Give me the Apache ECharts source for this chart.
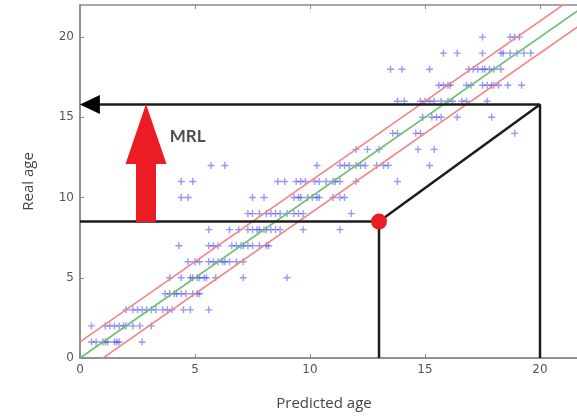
<!DOCTYPE html>
<html>
<head>
<meta charset="utf-8">
<script src="https://cdn.jsdelivr.net/npm/echarts@6/dist/echarts.min.js"></script>
<style>
  html, body { margin: 0; padding: 0; background: #fff; }
  #main { width: 577px; height: 416px; }
</style>
</head>
<body>
<div id="main"></div>
<script>
// real age (y) for each row of points
var realAges = [1, 2, 3, 4, 5, 6, 7, 8, 9, 10, 11, 12, 13, 14, 15, 16, 17, 18, 19, 20];
// predicted ages (x), one list per real age
var predictedAges = [
  [0.5, 0.7, 1.0, 1.1, 1.2, 1.5, 1.6, 1.7, 2.7],
  [0.5, 1.1, 1.3, 1.5, 1.7, 1.9, 2.0, 2.3, 2.6, 3.1],
  [2.0, 2.3, 2.5, 2.7, 2.9, 3.1, 3.3, 3.6, 3.8, 4.0, 4.5, 4.8, 5.6],
  [3.7, 3.9, 4.1, 4.2, 4.4, 4.6, 4.9, 5.1, 5.2],
  [3.9, 4.4, 4.8, 4.9, 5.1, 5.2, 5.4, 5.5, 5.9, 7.1, 9.0],
  [4.7, 5.0, 5.2, 5.6, 5.8, 6.0, 6.2, 6.3, 6.5, 6.8, 7.1],
  [4.3, 5.6, 5.8, 6.0, 6.6, 6.8, 7.0, 7.1, 7.3, 7.5, 7.8, 8.1, 8.2],
  [5.6, 6.5, 6.9, 7.3, 7.5, 7.7, 7.8, 8.0, 8.1, 8.3, 8.5, 8.7, 9.7, 11.3],
  [7.3, 7.5, 7.8, 8.1, 8.3, 8.5, 8.7, 9.0, 9.3, 9.5, 9.7, 11.8],
  [4.4, 4.7, 7.5, 8.0, 9.3, 9.5, 9.6, 9.9, 10.1, 10.3, 10.4, 11.0, 11.3, 11.5],
  [4.4, 4.9, 8.6, 8.9, 9.4, 9.6, 9.8, 10.2, 10.4, 10.7, 11.0, 11.1, 11.3, 12.0, 13.8],
  [5.7, 6.3, 10.3, 11.3, 11.5, 11.7, 12.0, 12.2, 12.4, 12.9, 13.2, 13.4, 15.2],
  [12.0, 12.5, 13.0, 14.7, 15.4],
  [13.6, 13.8, 14.6, 14.8, 18.9],
  [14.9, 15.3, 15.5, 15.7, 16.4, 17.9],
  [13.8, 14.1, 14.8, 15.0, 15.2, 15.4, 15.7, 16.0, 16.2, 16.6, 16.8, 17.7],
  [15.6, 15.8, 16.0, 16.1, 16.8, 17.0, 17.5, 17.7, 17.9, 18.0, 18.2, 18.6, 19.2],
  [13.5, 14.0, 15.2, 16.9, 17.1, 17.3, 17.5, 17.6, 17.8, 18.0, 18.3],
  [15.8, 16.4, 17.5, 18.3, 18.4, 18.7, 19.0, 19.3, 19.6],
  [17.5, 18.7, 18.9, 19.1]
];
// y = x + offset guide lines
var bandOffsets = [1, -1];
var axisMax = 22;
// annotation points
var mrlPoint = [13, 8.5];
var mrlCorner = [20, 15.8];

var points = [];
realAges.forEach(function (age, i) {
  predictedAges[i].forEach(function (p) { points.push([p, age]); });
});

function diag(offset) {
  return [[0, offset], [axisMax, axisMax + offset]];
}

var plusPath = 'path://M4 0h2v4h4v2h-4v4h-2v-4h-4v-2h4z';
var arrowPath = 'path://M20.5 0L41 60L30.5 60L30.5 118L10.5 118L10.5 60L0 60Z';
var black = '#1c1c1c';

var series = [{
  type: 'scatter',
  data: points,
  symbol: plusPath,
  symbolSize: 7,
  itemStyle: { color: 'rgb(50,50,235)', opacity: 0.5 },
  z: 2
}];
bandOffsets.forEach(function (o) {
  series.push({
    type: 'line', data: diag(o), showSymbol: false, silent: true, z: 3,
    lineStyle: { color: '#f48383', width: 1.6 }
  });
});
series.push({
  type: 'line', data: diag(0), showSymbol: false, silent: true, z: 3,
  lineStyle: { color: '#6cc070', width: 1.6 }
});
// black construction lines
series.push({
  type: 'line', data: [[0, mrlPoint[1]], mrlPoint, [mrlPoint[0], 0]],
  showSymbol: false, silent: true, z: 4, lineStyle: { color: black, width: 2.5 }
});
series.push({
  type: 'line', data: [mrlPoint, mrlCorner, [mrlCorner[0], 0]],
  showSymbol: false, silent: true, z: 4, lineStyle: { color: black, width: 2.5 }
});
series.push({
  type: 'line', data: [[0.6, mrlCorner[1]], mrlCorner],
  showSymbol: false, silent: true, z: 4, lineStyle: { color: black, width: 2.5 }
});
// arrow heads, red arrow, red dot, label
series.push({
  type: 'scatter', data: [[0.43, mrlCorner[1]]], silent: true, z: 5,
  symbol: 'triangle', symbolSize: [19, 20], symbolRotate: 90,
  itemStyle: { color: '#000', opacity: 1 }
});
series.push({
  type: 'scatter', data: [[2.87, (mrlPoint[1] + mrlCorner[1]) / 2]], silent: true, z: 5,
  symbol: arrowPath, symbolSize: [41, 118], symbolKeepAspect: false,
  itemStyle: { color: '#ec1c24', opacity: 1 }
});
series.push({
  type: 'scatter', data: [mrlPoint], silent: true, z: 6,
  symbol: 'circle', symbolSize: 16,
  itemStyle: { color: '#ec1c24', opacity: 1 }
});
series.push({
  type: 'scatter', data: [[3.9, 13.8]], silent: true, z: 6,
  symbolSize: 0,
  label: {
    show: true, position: 'right', distance: 0, formatter: 'MRL',
    fontFamily: 'Lato', fontWeight: 'bold', fontSize: 17, color: '#222'
  }
});

var tickFont = { fontFamily: 'DejaVu Sans', fontSize: 12, color: '#555' };

var chart = echarts.init(document.getElementById('main'));
chart.setOption({
  animation: false,
  backgroundColor: '#fff',
  grid: {
    left: 80, top: 5, right: -9, bottom: 58,
    outerBoundsMode: 'none',
    show: true, borderColor: '#8a8a8a', borderWidth: 1.5, backgroundColor: '#fff'
  },
  xAxis: [{
    type: 'value', min: 0, max: axisMax, interval: 5,
    name: 'Predicted age', nameLocation: 'middle', nameGap: 38,
    nameTextStyle: { fontFamily: 'Open Sans', fontSize: 15, color: '#444', padding: [0, 18, 0, 0] },
    axisLine: { show: true, lineStyle: { color: '#8a8a8a', width: 1.5 } },
    axisTick: { show: true, inside: true, length: 4, lineStyle: { color: '#8a8a8a' } },
    axisLabel: Object.assign({ margin: 6, showMaxLabel: false }, tickFont),
    splitLine: { show: false }
  }, {
    type: 'value', min: 0, max: axisMax, interval: 5, position: 'top',
    axisLine: { show: false },
    axisTick: { show: true, inside: true, length: 4, lineStyle: { color: '#8a8a8a' } },
    axisLabel: { show: false },
    splitLine: { show: false }
  }],
  yAxis: {
    type: 'value', min: 0, max: axisMax, interval: 5,
    name: 'Real age', nameLocation: 'middle', nameGap: 44,
    nameTextStyle: { fontFamily: 'Open Sans', fontSize: 15, color: '#444' },
    axisLine: { show: true, lineStyle: { color: '#8a8a8a', width: 1.5 } },
    axisTick: { show: true, inside: true, length: 4, lineStyle: { color: '#8a8a8a' } },
    axisLabel: Object.assign({ margin: 6, showMaxLabel: false }, tickFont),
    splitLine: { show: false }
  },
  series: series
});
</script>
</body>
</html>
